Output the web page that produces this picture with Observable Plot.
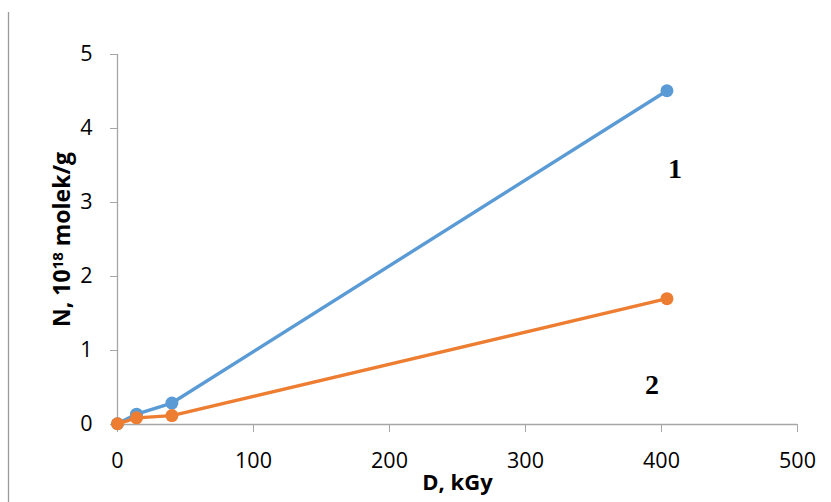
<!DOCTYPE html>
<html>
<head>
<meta charset="utf-8">
<script src="https://cdn.jsdelivr.net/npm/d3@7"></script>
<script src="https://cdn.jsdelivr.net/npm/@observablehq/plot@0.6"></script>
<style>
  html, body { margin: 0; padding: 0; background: #fff; }
  #chart svg { display: block; }
</style>
</head>
<body>
<div id="chart"></div>
<script>
// Data
const doseBlue = [0, 14, 40, 404];
const valuesBlue = [0.01, 0.14, 0.29, 4.51];
const doseOrange = [0, 14, 40, 404];
const valuesOrange = [0.01, 0.09, 0.12, 1.70];
const xTicks = [0, 100, 200, 300, 400, 500];
const yTicks = [0, 1, 2, 3, 4, 5];
const seriesLabels = [
  {x: 410, y: 3.45, text: "1"},
  {x: 393, y: 0.54, text: "2"}
];
const xLabel = "D, kGy";
const yLabelParts = ["N, 10", "18", " molek/g"];

const blue = "#5B9BD5";
const orange = "#ED7D31";
const gray = "#A6A6A6";

const blueData = doseBlue.map((d, i) => ({x: d, y: valuesBlue[i]}));
const orangeData = doseOrange.map((d, i) => ({x: d, y: valuesOrange[i]}));

const font = "'Open Sans', 'Liberation Sans', sans-serif";

const chart = Plot.plot({
  width: 831,
  height: 502,
  marginLeft: 117,
  marginRight: 34,
  marginTop: 54,
  marginBottom: 78,
  style: {fontFamily: font, fontSize: "21px", color: "#000", background: "#fff", overflow: "visible"},
  x: {domain: [0, 500]},
  y: {domain: [0, 5]},
  marks: [
    Plot.ruleY([0], {stroke: gray, strokeWidth: 1.3}),
    Plot.ruleX([0], {stroke: gray, strokeWidth: 1.3}),
    Plot.axisX({ticks: xTicks, tickFormat: d3.format("d"), tickSize: 8, tickPadding: 20, stroke: gray, fill: "#000", label: null, fontSize: 21.5}),
    Plot.axisY({ticks: yTicks, tickFormat: d3.format("d"), tickSize: 7, tickPadding: 18, stroke: gray, fill: "#000", label: null, fontSize: 21.5}),
    Plot.line(blueData, {x: "x", y: "y", stroke: blue, strokeWidth: 3.4}),
    Plot.dot(blueData, {x: "x", y: "y", r: 6.5, fill: blue}),
    Plot.line(orangeData, {x: "x", y: "y", stroke: orange, strokeWidth: 3.4}),
    Plot.dot(orangeData, {x: "x", y: "y", r: 6.5, fill: orange}),
    Plot.text(seriesLabels, {x: "x", y: "y", text: "text", fontFamily: "'Liberation Serif', 'Times New Roman', serif", fontWeight: "bold", fontSize: 28, fill: "#000"}),
    Plot.text([xLabel], {frameAnchor: "bottom", dy: 65, fontWeight: "bold", fontSize: 22, fill: "#000"}),
    Plot.text([yLabelParts.join("")], {frameAnchor: "left", textAnchor: "middle", dx: -55, rotate: -90, fontWeight: "bold", fontSize: 23, fill: "#000"})
  ]
});

// Superscript for the exponent in the y-axis label
d3.select(chart).selectAll("text").filter(function() {
  return this.textContent === yLabelParts.join("");
}).each(function() {
  const t = d3.select(this);
  t.text(null);
  t.append("tspan").text(yLabelParts[0]);
  t.append("tspan").attr("dy", "-0.45em").attr("font-size", "0.65em").text(yLabelParts[1]);
  t.append("tspan").attr("dy", "0.3em").text(yLabelParts[2]);
});

// Outer chart-area border on the left
d3.select(chart).append("line")
  .attr("x1", 8.5).attr("x2", 8.5).attr("y1", 12).attr("y2", 502)
  .attr("stroke", "#9a9a9a").attr("stroke-width", 1.3);

document.getElementById("chart").appendChild(chart);
</script>
</body>
</html>
